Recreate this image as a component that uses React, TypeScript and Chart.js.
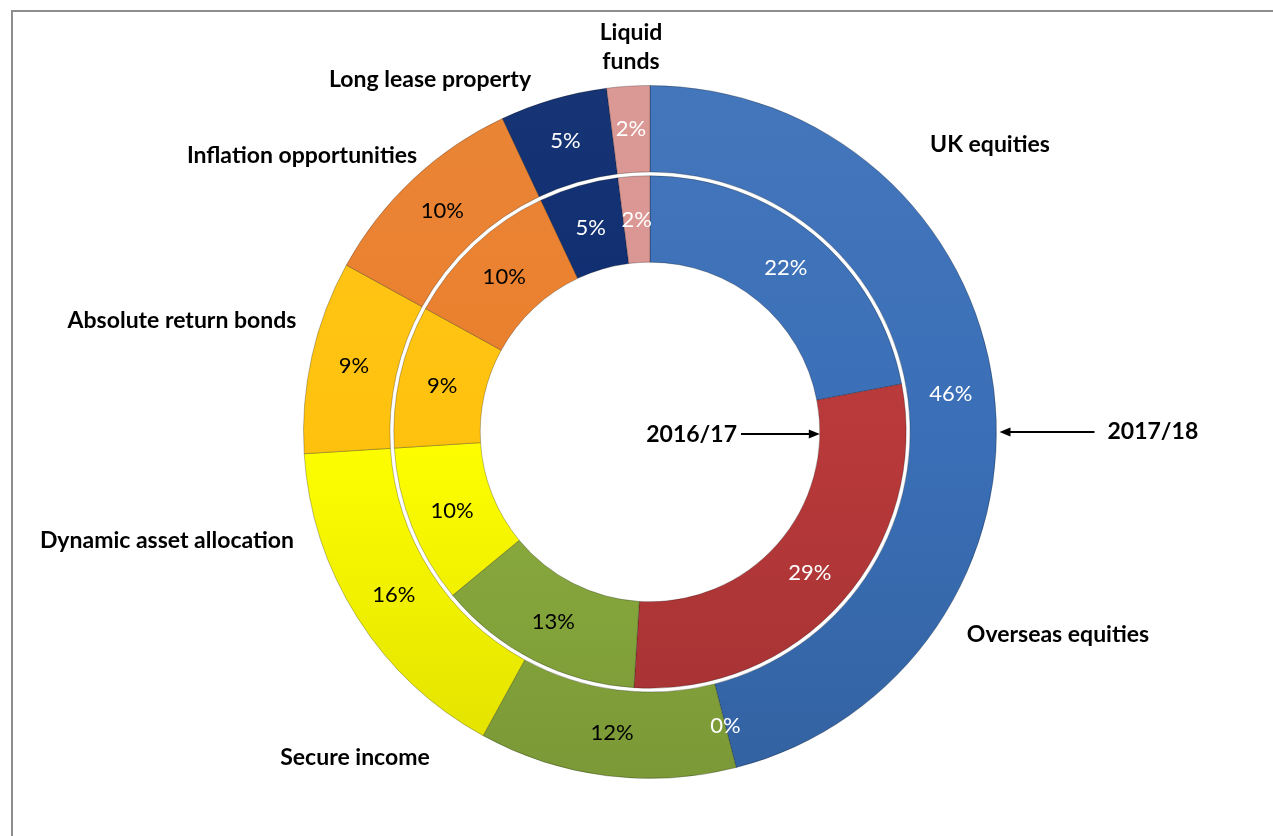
import React, { useEffect, useRef } from "react";
import { Chart, registerables } from "chart.js";

Chart.register(...registerables);

// ---- data ----
const categories = [
  "UK equities",
  "Overseas equities",
  "Secure income",
  "Dynamic asset allocation",
  "Absolute return bonds",
  "Inflation opportunities",
  "Long lease property",
  "Liquid funds",
];
const values2017_18 = [46, 0, 12, 16, 9, 10, 5, 2];
const values2016_17 = [22, 29, 13, 10, 9, 10, 5, 2];
const seriesNames = ["2017/18", "2016/17"];

// ---- styles ----
const sliceColors = [
  "#3a6fb7",
  "#b9393a",
  "#8cae3f",
  "#ffff00",
  "#ffc20e",
  "#e97f2c",
  "#0b2a6e",
  "#d99490",
];
const valueTextColors = ["#ffffff", "#ffffff", "#000000", "#000000", "#000000", "#000000", "#ffffff", "#ffffff"];

// category label offsets from the chart centre (pixels), one or more lines each
const categoryLabelLayout: { dx: number; dy: number; lines: string[] }[] = [
  { dx: 340, dy: -287, lines: ["UK equities"] },
  { dx: 408, dy: 203, lines: ["Overseas equities"] },
  { dx: -295, dy: 326, lines: ["Secure income"] },
  { dx: -483, dy: 109, lines: ["Dynamic asset allocation"] },
  { dx: -468, dy: -111, lines: ["Absolute return bonds"] },
  { dx: -348, dy: -276, lines: ["Inflation opportunities"] },
  { dx: -220, dy: -352, lines: ["Long lease property"] },
  { dx: -19, dy: -399, lines: ["Liquid", "funds"] },
];

const LABEL_FONT = "bold 23px Lato, 'DejaVu Sans', sans-serif";
const VALUE_FONT = "22px Lato, 'DejaVu Sans', sans-serif";

function mix(hex: string, target: number, amt: number) {
  const n = parseInt(hex.slice(1), 16);
  const r = (n >> 16) & 255, g = (n >> 8) & 255, b = n & 255;
  const f = (c: number) => Math.round(c + (target - c) * amt);
  return `rgb(${f(r)},${f(g)},${f(b)})`;
}

function shadedColor(ctx: any) {
  const chart = ctx.chart;
  const base = sliceColors[ctx.dataIndex % sliceColors.length];
  const area = chart.chartArea;
  if (!area) return base;
  const g = chart.ctx.createLinearGradient(0, area.top, 0, area.bottom);
  g.addColorStop(0, mix(base, 255, 0.05));
  g.addColorStop(0.5, base);
  g.addColorStop(1, mix(base, 0, 0.12));
  return g;
}

function drawArrow(ctx: CanvasRenderingContext2D, x1: number, x2: number, y: number) {
  ctx.save();
  ctx.strokeStyle = "#000";
  ctx.fillStyle = "#000";
  ctx.lineWidth = 2;
  const dir = x2 > x1 ? 1 : -1;
  ctx.beginPath();
  ctx.moveTo(x1, y);
  ctx.lineTo(x2 - dir * 8, y);
  ctx.stroke();
  ctx.beginPath();
  ctx.moveTo(x2, y);
  ctx.lineTo(x2 - dir * 11, y - 4.5);
  ctx.lineTo(x2 - dir * 11, y + 4.5);
  ctx.closePath();
  ctx.fill();
  ctx.restore();
}

const annotationPlugin = {
  id: "annotations",
  afterDatasetsDraw(chart: any) {
    const ctx: CanvasRenderingContext2D = chart.ctx;
    const outerMeta = chart.getDatasetMeta(0);
    const innerMeta = chart.getDatasetMeta(2);
    const arc0 = outerMeta.data[0];
    const cx = arc0.x;
    const cy = arc0.y;
    const outerR = outerMeta.controller.outerRadius;
    const holeR = innerMeta.controller.innerRadius;

    // value labels
    ctx.save();
    ctx.font = VALUE_FONT;
    ctx.textAlign = "center";
    ctx.textBaseline = "middle";
    [0, 2].forEach((di) => {
      const meta = chart.getDatasetMeta(di);
      const ds = chart.data.datasets[di];
      meta.data.forEach((arc: any, i: number) => {
        const p = arc.tooltipPosition(false);
        ctx.fillStyle = valueTextColors[i];
        ctx.fillText(ds.data[i] + "%", p.x, p.y);
      });
    });
    ctx.restore();

    // category labels
    ctx.save();
    ctx.font = LABEL_FONT;
    ctx.fillStyle = "#000";
    ctx.textAlign = "center";
    ctx.textBaseline = "middle";
    categoryLabelLayout.forEach((l) => {
      l.lines.forEach((line, k) => {
        ctx.fillText(line, cx + l.dx, cy + l.dy + k * 29);
      });
    });

    // series labels with arrows
    ctx.textAlign = "left";
    ctx.fillText(seriesNames[0], cx + outerR + 111, cy);
    drawArrow(ctx, cx + outerR + 98, cx + outerR + 3, cy);
    ctx.textAlign = "right";
    ctx.fillText(seriesNames[1], cx + 87, cy + 3);
    drawArrow(ctx, cx + 91, cx + holeR, cy + 2);
    ctx.restore();
  },
};

export default function App() {
  const canvasRef = useRef<HTMLCanvasElement | null>(null);

  useEffect(() => {
    if (!canvasRef.current) return;
    const chart = new Chart(canvasRef.current, {
      type: "doughnut",
      data: {
        labels: categories,
        datasets: [
          {
            label: seriesNames[0],
            data: values2017_18,
            backgroundColor: shadedColor,
            borderColor: "rgba(0,0,0,0.25)",
            borderWidth: 1,
            weight: 1,
          },
          {
            label: "gap",
            data: [1],
            backgroundColor: "rgba(0,0,0,0)",
            borderWidth: 0,
            weight: 0.045,
          },
          {
            label: seriesNames[1],
            data: values2016_17,
            backgroundColor: shadedColor,
            borderColor: "rgba(0,0,0,0.25)",
            borderWidth: 1,
            weight: 1,
          },
        ],
      },
      options: {
        responsive: false,
        maintainAspectRatio: false,
        animation: false,
        cutout: "49%",
        layout: { padding: { left: 303, right: 276, top: 85, bottom: 57 } },
        plugins: {
          legend: { display: false },
          tooltip: { enabled: false },
        },
      },
      plugins: [annotationPlugin],
    });
    return () => chart.destroy();
  }, []);

  return (
    <div style={{ position: "absolute", left: 0, top: 0, width: 1273, height: 836, background: "#fff", overflow: "hidden" }}>
      <div
        style={{
          position: "absolute",
          left: 11,
          top: 10,
          width: 1300,
          height: 900,
          borderTop: "2px solid #8e8e8e",
          borderLeft: "2px solid #8e8e8e",
        }}
      />
      <canvas ref={canvasRef} width={1273} height={836} style={{ position: "absolute", left: 0, top: 0 }} />
    </div>
  );
}
